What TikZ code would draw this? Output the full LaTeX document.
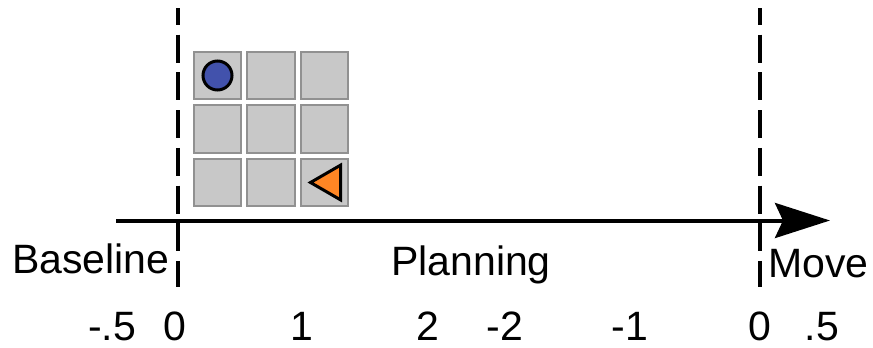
\documentclass[tikz,border=0pt]{standalone}
\usepackage{fontspec}
\setmainfont{Liberation Sans}
\usetikzlibrary{positioning,arrows.meta,shapes.geometric}
\definecolor{cellgray}{RGB}{200,200,200}
\definecolor{cellline}{RGB}{145,145,145}
\definecolor{agentblue}{RGB}{66,82,172}
\definecolor{goalorange}{RGB}{255,134,36}
\begin{document}
\begin{tikzpicture}[
x=1pt, y=-1pt,
cell/.style={rectangle, draw=cellline, fill=cellgray, line width=2pt, minimum size=47.5pt, inner sep=0pt, outer sep=0pt},
agent/.style={circle, draw=black, fill=agentblue, line width=3pt, minimum size=29pt, inner sep=0pt},
goal/.style={regular polygon, regular polygon sides=3, shape border rotate=90, draw=black, fill=goalorange, line width=3pt, minimum size=40pt, inner sep=0pt},
phase/.style={dashed, line width=3.5pt, dash pattern=on 28pt off 9.7pt, dash phase=11pt},
lbl/.style={anchor=base, inner sep=0pt, font=\fontsize{41}{48}\selectfont}
]
\useasboundingbox (0,0) rectangle (873,348);
%Grid
\node[cell]      (c11)     at (217.5,75.5)              {};
\node[cell]      (c12)     [right=6pt of c11]           {};
\node[cell]      (c13)     [right=6pt of c12]           {};
\node[cell]      (c21)     [below=6pt of c11]           {};
\node[cell]      (c22)     [right=6pt of c21]           {};
\node[cell]      (c23)     [right=6pt of c22]           {};
\node[cell]      (c31)     [below=6pt of c21]           {};
\node[cell]      (c32)     [right=6pt of c31]           {};
\node[cell]      (c33)     [right=6pt of c32]           {};
\node[agent]     (robot)   at (c11)                     {};
\node[goal]      (target)  [xshift=6pt] at (c33)        {};
%Phase borders
\coordinate (b0top) at (178,8);
\coordinate (b0bot) at (178,287);
\coordinate (m0top) at (760,8);
\coordinate (m0bot) at (760,287);
\draw[phase] (b0top) -- (b0bot);
\draw[phase] (m0top) -- (m0bot);
%Time axis
\coordinate (tstart) at (116,220.5);
\coordinate (tend)   at (830,220.5);
\draw[line width=4pt, -{Stealth[length=55pt, width=35pt, inset=8pt]}] (tstart) -- (tend);
%Labels
\node[lbl, anchor=base west] (baseline) at (12,273)   {Baseline};
\node[lbl]                   (planning) at (471,275)  {Planning};
\node[lbl, anchor=base west] (move)     at (768,277)  {Move};
%Ticks
\node[lbl] (tbm) at (112,340) {-.5};
\node[lbl] (tb0) at (175,340) {0};
\node[lbl] (tp1) at (302,340) {1};
\node[lbl] (tp2) at (428,340) {2};
\node[lbl] (tn2) at (505,340) {-2};
\node[lbl] (tn1) at (630,340) {-1};
\node[lbl] (tm0) at (760,340) {0};
\node[lbl] (tm5) at (822,340) {.5};
\end{tikzpicture}
\end{document}
